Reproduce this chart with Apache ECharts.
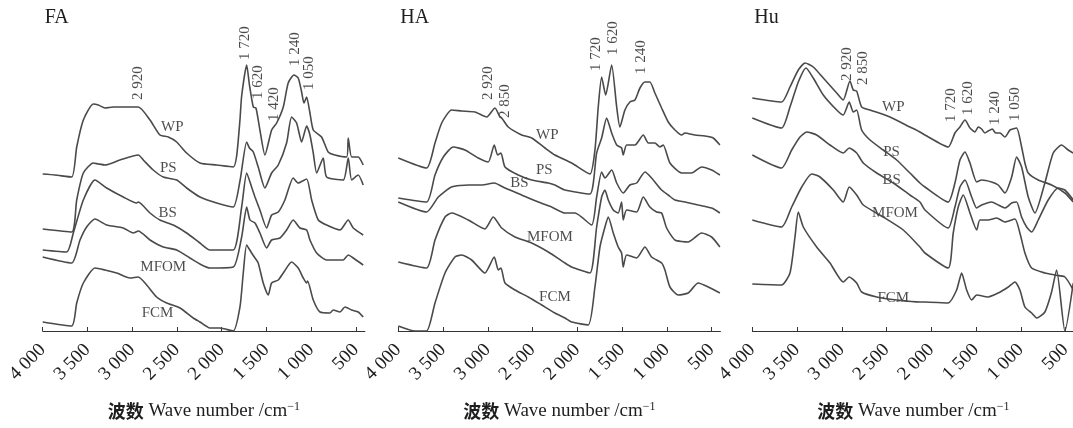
<!DOCTYPE html>
<html>
<head>
<meta charset="utf-8">
<script src="https://cdn.jsdelivr.net/npm/echarts@6/dist/echarts.min.js"></script>
<style>
  html, body { margin: 0; padding: 0; background: #fff; }
  #chart { width: 1073px; height: 428px; }
</style>
</head>
<body>
<div id="chart"></div>
<script>
// Eixo X (número de onda, cm-1)
const wavenumberTicks = [4000, 3500, 3000, 2500, 2000, 1500, 1000, 500];
const tickLabels = ['4 000', '3 500', '3 000', '2 500', '2 000', '1 500', '1 000', '500'];
const sampleNames = ['WP', 'PS', 'BS', 'MFOM', 'FCM'];

// FA: [número de onda, absorbância relativa]
const faWP = [[4000,157],[3863,156],[3676,154],[3620,184],[3546,211],[3435,227],[3379,226],[3304,223],[3211,224],[2932,224],[2801,211],[2690,196],[2597,194],[2503,189],[2392,178],[2243,168],[2056,166],[1871,164],[1833,175],[1796,211],[1777,235],[1721,266],[1690,246],[1647,224],[1617,223],[1573,201],[1517,176],[1442,201],[1386,208],[1312,224],[1257,248],[1193,256],[1145,253],[1107,239],[1081,228],[1051,234],[1014,218],[977,201],[884,194],[810,179],[735,176],[604,174],[586,193],[548,174],[475,174],[419,166]];
const faPS = [[4000,102],[3676,99],[3620,131],[3546,158],[3435,168],[3379,167],[3304,166],[3137,171],[2932,176],[2876,171],[2765,161],[2653,154],[2503,151],[2392,143],[2243,134],[2056,128],[1871,124],[1796,150],[1721,189],[1690,183],[1647,179],[1592,164],[1517,143],[1442,158],[1368,166],[1275,188],[1219,214],[1163,208],[1107,189],[1051,205],[1014,196],[977,178],[939,158],[866,173],[828,154],[642,151],[586,173],[548,151],[475,156],[419,146]];
const faBS = [[4000,81],[3732,79],[3658,98],[3546,131],[3416,151],[3285,143],[3100,134],[2950,128],[2932,129],[2801,118],[2690,111],[2541,106],[2392,98],[2243,88],[2132,81],[1871,81],[1777,124],[1721,158],[1666,144],[1628,134],[1573,121],[1498,103],[1442,116],[1368,119],[1294,131],[1201,153],[1145,148],[1051,152],[995,131],[921,111],[828,106],[679,101],[586,111],[530,103],[419,96]];
const faMFOM = [[4000,74],[3676,68],[3583,91],[3509,104],[3416,112],[3285,106],[3100,103],[2988,98],[2932,100],[2801,91],[2653,84],[2503,81],[2355,73],[2243,67],[2132,63],[1871,64],[1777,94],[1721,124],[1684,111],[1628,108],[1573,98],[1498,83],[1442,91],[1349,93],[1275,101],[1201,111],[1126,103],[1051,101],[1014,91],[939,78],[828,71],[642,71],[586,76],[530,73],[419,66]];
const faFCM = [[4000,9],[3676,5],[3620,28],[3546,48],[3416,63],[3304,61],[3173,58],[3025,53],[2932,54],[2838,46],[2727,34],[2615,28],[2466,23],[2318,13],[2243,9],[2132,3],[2020,3],[1871,0],[1796,24],[1759,58],[1721,86],[1666,78],[1628,73],[1592,68],[1536,48],[1480,36],[1442,48],[1368,51],[1312,58],[1219,69],[1145,63],[1089,53],[1051,48],[1040,50],[977,31],[902,19],[791,18],[754,21],[679,19],[623,24],[548,21],[475,19],[419,14]];

// HA
const haWP = [[4000,173],[3684,163],[3590,188],[3515,208],[3404,221],[3292,220],[3143,219],[3013,214],[2920,223],[2864,214],[2845,213],[2771,204],[2622,196],[2510,193],[2361,183],[2250,176],[2063,168],[1859,157],[1803,181],[1766,224],[1728,254],[1683,236],[1616,266],[1560,224],[1524,204],[1468,221],[1412,229],[1356,231],[1300,243],[1244,249],[1189,249],[1133,238],[1058,223],[984,209],[909,201],[834,196],[798,198],[686,196],[574,195],[481,193],[407,186]];
const haPS = [[4000,133],[3684,129],[3590,156],[3497,174],[3386,184],[3255,181],[3106,173],[2995,169],[2928,186],[2890,176],[2853,178],[2808,164],[2660,156],[2510,151],[2324,148],[2250,146],[2138,141],[1859,137],[1784,178],[1728,193],[1672,213],[1616,198],[1560,186],[1505,183],[1487,176],[1449,186],[1356,186],[1263,196],[1207,188],[1133,188],[1077,184],[1040,186],[965,168],[834,158],[723,158],[611,164],[499,161],[407,156]];
const haBS = [[4000,129],[3684,119],[3553,134],[3404,144],[3218,146],[3068,146],[2928,148],[2808,143],[2622,136],[2436,129],[2287,124],[2138,118],[2026,118],[1840,106],[1784,134],[1728,159],[1691,153],[1616,161],[1560,148],[1487,138],[1412,146],[1337,148],[1244,159],[1170,153],[1058,141],[984,136],[909,131],[798,129],[649,126],[499,123],[407,118]];
const haMFOM = [[4000,69],[3684,63],[3590,91],[3478,114],[3404,118],[3218,111],[3032,102],[2939,114],[2845,103],[2696,94],[2510,88],[2324,79],[2138,68],[2063,64],[1859,58],[1784,104],[1728,134],[1691,141],[1654,131],[1598,121],[1543,118],[1505,129],[1487,111],[1449,121],[1337,119],[1263,134],[1189,124],[1114,119],[1058,118],[1002,103],[909,91],[761,89],[611,98],[499,94],[407,84]];
const haFCM = [[4000,5],[3813,0],[3684,0],[3590,28],[3478,58],[3367,74],[3292,76],[3180,71],[3032,58],[2928,74],[2883,61],[2853,63],[2808,48],[2696,41],[2548,34],[2398,26],[2250,18],[2138,13],[2063,9],[1878,6],[1803,44],[1747,84],[1691,104],[1654,114],[1598,98],[1543,84],[1505,78],[1487,64],[1449,76],[1337,73],[1244,84],[1170,74],[1058,68],[1021,61],[965,44],[872,36],[761,38],[649,48],[537,44],[407,38]];

// Hu
const huWP = [[4000,233],[3673,229],[3579,244],[3486,261],[3411,268],[3319,264],[3207,253],[3057,238],[2984,231],[2909,250],[2872,241],[2834,240],[2778,224],[2685,221],[2462,214],[2239,204],[2127,199],[2071,196],[1811,184],[1736,198],[1680,204],[1624,211],[1568,203],[1512,199],[1476,204],[1438,202],[1401,198],[1364,200],[1319,202],[1281,198],[1233,198],[1177,194],[1121,201],[1047,203],[991,184],[954,168],[917,158],[805,151],[656,146],[507,138],[414,129]];
const huPS = [[4000,213],[3673,203],[3579,224],[3486,249],[3400,263],[3319,253],[3207,236],[3057,221],[2984,216],[2917,229],[2872,219],[2834,221],[2778,201],[2685,191],[2537,181],[2387,171],[2239,158],[2127,148],[2071,144],[1811,129],[1736,148],[1680,171],[1624,179],[1568,168],[1493,149],[1438,151],[1326,149],[1252,146],[1177,138],[1102,154],[1047,174],[991,164],[917,134],[842,118],[731,148],[638,178],[544,186],[470,181],[414,178]];
const huBS = [[4000,176],[3673,163],[3560,181],[3467,194],[3392,199],[3281,196],[3132,186],[2984,178],[2917,183],[2834,178],[2760,168],[2610,158],[2425,148],[2239,136],[2127,129],[2071,121],[1811,103],[1736,124],[1680,144],[1624,151],[1549,134],[1493,123],[1438,126],[1326,129],[1252,126],[1177,123],[1102,128],[1047,129],[991,114],[935,104],[879,99],[805,111],[694,131],[582,143],[507,141],[414,131]];
const huMFOM = [[4000,111],[3673,104],[3560,124],[3448,144],[3337,157],[3244,154],[3095,141],[2984,129],[2917,144],[2834,136],[2760,126],[2537,114],[2313,101],[2127,84],[2071,78],[1811,63],[1755,98],[1699,124],[1643,136],[1568,118],[1493,101],[1457,111],[1364,111],[1270,113],[1177,109],[1065,112],[1010,98],[954,78],[879,63],[731,58],[619,56],[507,54],[414,41]];
const huFCM = [[4000,47],[3673,46],[3579,58],[3523,94],[3486,119],[3430,104],[3281,84],[3132,68],[2984,49],[2917,54],[2834,48],[2778,39],[2610,34],[2387,31],[2127,29],[2071,29],[1811,28],[1717,41],[1661,58],[1605,41],[1549,31],[1493,36],[1364,34],[1252,38],[1140,44],[1065,49],[1010,41],[954,24],[879,18],[823,13],[731,19],[656,39],[600,61],[507,0],[414,48]];

// Anotações dos picos: [número de onda, nível, texto]
const faPeaks = [[2932,248,'2 920'],[1740,288,'1 720'],[1592,249,'1 620'],[1416,227,'1 420'],[1182,282,'1 240'],[1022,258,'1 050']];
const haPeaks = [[2995,248,'2 920'],[2808,230,'2 850'],[1792,277,'1 720'],[1598,293,'1 620'],[1282,274,'1 240']];
const huPeaks = [[2939,267,'2 920'],[2760,263,'2 850'],[1774,226,'1 720'],[1587,233,'1 620'],[1289,223,'1 240'],[1065,227,'1 050']];

// Rótulos das amostras: [número de onda, nível]
const faNamePos = [[2552,204],[2597,163],[2604,118],[2653,64],[2716,18]];
const haNamePos = [[2336,196],[2369,161],[2648,148],[2306,94],[2250,34]];
const huNamePos = [[2425,224],[2444,179],[2444,151],[2406,118],[2425,33]];

const FONT = '"Liberation Serif", "Times New Roman", serif';
const LINE_COLOR = '#4a4a4a';
const TEXT_COLOR = '#1e1e1e';

const panels = [
    { title: 'FA', left: 42.7, curves: [faWP, faPS, faBS, faMFOM, faFCM], peaks: faPeaks, names: faNamePos },
    { title: 'HA', left: 398.3, curves: [haWP, haPS, haBS, haMFOM, haFCM], peaks: haPeaks, names: haNamePos },
    { title: 'Hu', left: 752.3, curves: [huWP, huPS, huBS, huMFOM, huFCM], peaks: huPeaks, names: huNamePos }
];

function createChart() {
    const chart = echarts.init(document.getElementById('chart'), null, { renderer: 'canvas' });

    const grid = [], xAxis = [], yAxis = [], series = [], graphic = [];

    panels.forEach((p, i) => {
        grid.push({ left: p.left, top: 0, width: 322.2, height: 331, containLabel: false, outerBoundsMode: 'none' });

        xAxis.push({
            gridIndex: i,
            type: 'value',
            inverse: true,
            min: 400,
            max: 4000,
            axisLine: { lineStyle: { color: '#333', width: 1 } },
            axisTick: { inside: true, length: 4, customValues: wavenumberTicks, lineStyle: { color: '#333' } },
            axisLabel: {
                customValues: wavenumberTicks,
                rotate: 45,
                margin: 16,
                fontFamily: FONT,
                fontSize: 19,
                color: TEXT_COLOR,
                formatter: v => tickLabels[wavenumberTicks.indexOf(v)]
            },
            splitLine: { show: false },
            name: '{b|波数} Wave number /cm{s|−1}',
            nameLocation: 'middle',
            nameGap: 70,
            nameTextStyle: {
                fontFamily: FONT,
                fontSize: 19,
                color: TEXT_COLOR,
                lineHeight: 21,
                rich: {
                    b: { fontFamily: '"Noto Sans CJK SC"', fontWeight: 'bold', fontSize: 18, lineHeight: 21, color: TEXT_COLOR },
                    s: { fontFamily: FONT, fontSize: 12, lineHeight: 21, verticalAlign: 'top', color: TEXT_COLOR }
                }
            }
        });

        yAxis.push({ gridIndex: i, type: 'value', min: 0, max: 331, show: false });

        p.curves.forEach((data, k) => {
            series.push({
                name: p.title + ' ' + sampleNames[k],
                type: 'line',
                xAxisIndex: i,
                yAxisIndex: i,
                data: data,
                symbol: 'none',
                smooth: 0.2,
                lineStyle: { color: LINE_COLOR, width: 1.6 },
                silent: true
            });
        });

        // Números de onda dos picos (texto vertical)
        series.push({
            type: 'scatter',
            xAxisIndex: i,
            yAxisIndex: i,
            symbolSize: 0,
            silent: true,
            data: p.peaks.map(d => ({ value: [d[0], d[1]], label: { formatter: d[2] } })),
            label: {
                show: true,
                position: 'inside',
                rotate: 90,
                fontFamily: FONT,
                fontSize: 15,
                color: TEXT_COLOR
            }
        });

        // Nomes das amostras
        series.push({
            type: 'scatter',
            xAxisIndex: i,
            yAxisIndex: i,
            symbolSize: 0,
            silent: true,
            data: p.names.map((d, k) => ({ value: d, label: { formatter: sampleNames[k] } })),
            label: {
                show: true,
                position: 'inside',
                fontFamily: FONT,
                fontSize: 15,
                color: TEXT_COLOR
            }
        });

        graphic.push({
            type: 'text',
            left: p.left + 2,
            top: 8,
            style: { text: p.title, fontFamily: FONT, fontSize: 20, fill: TEXT_COLOR }
        });
    });

    chart.setOption({
        animation: false,
        backgroundColor: '#fff',
        grid, xAxis, yAxis, series, graphic
    });
}

document.addEventListener('DOMContentLoaded', createChart);
</script>
</body>
</html>
